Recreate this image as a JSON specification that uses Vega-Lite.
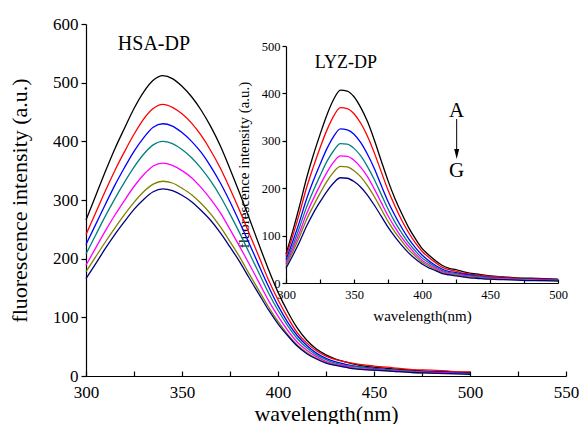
{
"$schema":"https://vega.github.io/schema/vega-lite/v6.json",
"width":480,"height":352,
"padding":{"left":8,"top":15,"right":0,"bottom":0},
"background":"white",
"config":{"view":{"stroke":null},"font":"Liberation Serif","text":{"font":"Liberation Serif"},
"axis":{"grid":false,"domainColor":"#000","tickColor":"#000","labelColor":"#000","titleColor":"#000","labelFont":"Liberation Serif","titleFont":"Liberation Serif","titleFontWeight":"normal","domainWidth":1.2,"tickWidth":1.2}},
"datasets":{
"hsa":[
{"w":300,"s":"A","v":266},{"w":305,"s":"A","v":307},{"w":310,"s":"A","v":348},{"w":315,"s":"A","v":387},{"w":320,"s":"A","v":422},{"w":325,"s":"A","v":456},{"w":330,"s":"A","v":484},{"w":335,"s":"A","v":504},{"w":340,"s":"A","v":512},{"w":345,"s":"A","v":507},{"w":350,"s":"A","v":494},{"w":355,"s":"A","v":476},{"w":360,"s":"A","v":453},{"w":365,"s":"A","v":425},{"w":370,"s":"A","v":392},{"w":375,"s":"A","v":353},{"w":380,"s":"A","v":312},{"w":385,"s":"A","v":269},{"w":390,"s":"A","v":225},{"w":395,"s":"A","v":182},{"w":400,"s":"A","v":143},{"w":405,"s":"A","v":110},{"w":410,"s":"A","v":82},{"w":415,"s":"A","v":61},{"w":420,"s":"A","v":46},{"w":425,"s":"A","v":36},{"w":430,"s":"A","v":29},{"w":435,"s":"A","v":24},{"w":440,"s":"A","v":20},{"w":450,"s":"A","v":15},{"w":460,"s":"A","v":12},{"w":470,"s":"A","v":10},{"w":480,"s":"A","v":8},{"w":490,"s":"A","v":7},{"w":500,"s":"A","v":6},
{"w":300,"s":"B","v":241},{"w":305,"s":"B","v":278},{"w":310,"s":"B","v":315},{"w":315,"s":"B","v":350},{"w":320,"s":"B","v":382},{"w":325,"s":"B","v":412},{"w":330,"s":"B","v":438},{"w":335,"s":"B","v":456},{"w":340,"s":"B","v":463},{"w":345,"s":"B","v":458},{"w":350,"s":"B","v":447},{"w":355,"s":"B","v":431},{"w":360,"s":"B","v":410},{"w":365,"s":"B","v":384},{"w":370,"s":"B","v":354},{"w":375,"s":"B","v":319},{"w":380,"s":"B","v":282},{"w":385,"s":"B","v":243},{"w":390,"s":"B","v":204},{"w":395,"s":"B","v":164},{"w":400,"s":"B","v":130},{"w":405,"s":"B","v":100},{"w":410,"s":"B","v":74},{"w":415,"s":"B","v":56},{"w":420,"s":"B","v":43},{"w":425,"s":"B","v":34},{"w":430,"s":"B","v":28},{"w":435,"s":"B","v":24},{"w":440,"s":"B","v":21},{"w":450,"s":"B","v":17},{"w":460,"s":"B","v":14},{"w":470,"s":"B","v":11},{"w":480,"s":"B","v":10},{"w":490,"s":"B","v":8},{"w":500,"s":"B","v":7},
{"w":300,"s":"C","v":224},{"w":305,"s":"C","v":258},{"w":310,"s":"C","v":292},{"w":315,"s":"C","v":325},{"w":320,"s":"C","v":355},{"w":325,"s":"C","v":383},{"w":330,"s":"C","v":406},{"w":335,"s":"C","v":424},{"w":340,"s":"C","v":430},{"w":345,"s":"C","v":426},{"w":350,"s":"C","v":415},{"w":355,"s":"C","v":400},{"w":360,"s":"C","v":381},{"w":365,"s":"C","v":357},{"w":370,"s":"C","v":329},{"w":375,"s":"C","v":297},{"w":380,"s":"C","v":262},{"w":385,"s":"C","v":226},{"w":390,"s":"C","v":189},{"w":395,"s":"C","v":153},{"w":400,"s":"C","v":120},{"w":405,"s":"C","v":92},{"w":410,"s":"C","v":69},{"w":415,"s":"C","v":52},{"w":420,"s":"C","v":39},{"w":425,"s":"C","v":30},{"w":430,"s":"C","v":24},{"w":435,"s":"C","v":20},{"w":440,"s":"C","v":17},{"w":450,"s":"C","v":13},{"w":460,"s":"C","v":10},{"w":470,"s":"C","v":8},{"w":480,"s":"C","v":7},{"w":490,"s":"C","v":6},{"w":500,"s":"C","v":5},
{"w":300,"s":"D","v":208},{"w":305,"s":"D","v":240},{"w":310,"s":"D","v":272},{"w":315,"s":"D","v":302},{"w":320,"s":"D","v":330},{"w":325,"s":"D","v":356},{"w":330,"s":"D","v":378},{"w":335,"s":"D","v":394},{"w":340,"s":"D","v":400},{"w":345,"s":"D","v":396},{"w":350,"s":"D","v":386},{"w":355,"s":"D","v":372},{"w":360,"s":"D","v":354},{"w":365,"s":"D","v":332},{"w":370,"s":"D","v":306},{"w":375,"s":"D","v":276},{"w":380,"s":"D","v":244},{"w":385,"s":"D","v":210},{"w":390,"s":"D","v":176},{"w":395,"s":"D","v":142},{"w":400,"s":"D","v":112},{"w":405,"s":"D","v":86},{"w":410,"s":"D","v":64},{"w":415,"s":"D","v":48},{"w":420,"s":"D","v":36},{"w":425,"s":"D","v":28},{"w":430,"s":"D","v":22},{"w":435,"s":"D","v":18},{"w":440,"s":"D","v":16},{"w":450,"s":"D","v":12},{"w":460,"s":"D","v":10},{"w":470,"s":"D","v":8},{"w":480,"s":"D","v":6},{"w":490,"s":"D","v":5},{"w":500,"s":"D","v":4},
{"w":300,"s":"E","v":189},{"w":305,"s":"E","v":218},{"w":310,"s":"E","v":247},{"w":315,"s":"E","v":274},{"w":320,"s":"E","v":299},{"w":325,"s":"E","v":323},{"w":330,"s":"E","v":343},{"w":335,"s":"E","v":358},{"w":340,"s":"E","v":363},{"w":345,"s":"E","v":359},{"w":350,"s":"E","v":350},{"w":355,"s":"E","v":338},{"w":360,"s":"E","v":321},{"w":365,"s":"E","v":301},{"w":370,"s":"E","v":278},{"w":375,"s":"E","v":250},{"w":380,"s":"E","v":221},{"w":385,"s":"E","v":191},{"w":390,"s":"E","v":160},{"w":395,"s":"E","v":129},{"w":400,"s":"E","v":102},{"w":405,"s":"E","v":78},{"w":410,"s":"E","v":58},{"w":415,"s":"E","v":44},{"w":420,"s":"E","v":33},{"w":425,"s":"E","v":25},{"w":430,"s":"E","v":20},{"w":435,"s":"E","v":17},{"w":440,"s":"E","v":14},{"w":450,"s":"E","v":11},{"w":460,"s":"E","v":9},{"w":470,"s":"E","v":7},{"w":480,"s":"E","v":6},{"w":490,"s":"E","v":5},{"w":500,"s":"E","v":4},
{"w":300,"s":"F","v":178},{"w":305,"s":"F","v":203},{"w":310,"s":"F","v":228},{"w":315,"s":"F","v":252},{"w":320,"s":"F","v":275},{"w":325,"s":"F","v":296},{"w":330,"s":"F","v":314},{"w":335,"s":"F","v":327},{"w":340,"s":"F","v":332},{"w":345,"s":"F","v":329},{"w":350,"s":"F","v":320},{"w":355,"s":"F","v":309},{"w":360,"s":"F","v":294},{"w":365,"s":"F","v":276},{"w":370,"s":"F","v":254},{"w":375,"s":"F","v":229},{"w":380,"s":"F","v":203},{"w":385,"s":"F","v":174},{"w":390,"s":"F","v":146},{"w":395,"s":"F","v":118},{"w":400,"s":"F","v":93},{"w":405,"s":"F","v":71},{"w":410,"s":"F","v":53},{"w":415,"s":"F","v":40},{"w":420,"s":"F","v":30},{"w":425,"s":"F","v":23},{"w":430,"s":"F","v":19},{"w":435,"s":"F","v":15},{"w":440,"s":"F","v":13},{"w":450,"s":"F","v":10},{"w":460,"s":"F","v":8},{"w":470,"s":"F","v":6},{"w":480,"s":"F","v":5},{"w":490,"s":"F","v":4},{"w":500,"s":"F","v":4},
{"w":300,"s":"G","v":166},{"w":305,"s":"G","v":191},{"w":310,"s":"G","v":217},{"w":315,"s":"G","v":241},{"w":320,"s":"G","v":263},{"w":325,"s":"G","v":284},{"w":330,"s":"G","v":301},{"w":335,"s":"G","v":314},{"w":340,"s":"G","v":319},{"w":345,"s":"G","v":316},{"w":350,"s":"G","v":308},{"w":355,"s":"G","v":297},{"w":360,"s":"G","v":282},{"w":365,"s":"G","v":265},{"w":370,"s":"G","v":244},{"w":375,"s":"G","v":220},{"w":380,"s":"G","v":195},{"w":385,"s":"G","v":167},{"w":390,"s":"G","v":140},{"w":395,"s":"G","v":113},{"w":400,"s":"G","v":89},{"w":405,"s":"G","v":69},{"w":410,"s":"G","v":51},{"w":415,"s":"G","v":38},{"w":420,"s":"G","v":29},{"w":425,"s":"G","v":22},{"w":430,"s":"G","v":18},{"w":435,"s":"G","v":15},{"w":440,"s":"G","v":12},{"w":450,"s":"G","v":10},{"w":460,"s":"G","v":8},{"w":470,"s":"G","v":6},{"w":480,"s":"G","v":5},{"w":490,"s":"G","v":4},{"w":500,"s":"G","v":3}
],
"lyz":[
{"w":300,"s":"A","v":61},{"w":305,"s":"A","v":110},{"w":310,"s":"A","v":163},{"w":315,"s":"A","v":220},{"w":320,"s":"A","v":269},{"w":325,"s":"A","v":313},{"w":330,"s":"A","v":354},{"w":335,"s":"A","v":387},{"w":340,"s":"A","v":407},{"w":345,"s":"A","v":405},{"w":350,"s":"A","v":393},{"w":355,"s":"A","v":370},{"w":360,"s":"A","v":340},{"w":365,"s":"A","v":301},{"w":370,"s":"A","v":258},{"w":375,"s":"A","v":216},{"w":380,"s":"A","v":179},{"w":385,"s":"A","v":147},{"w":390,"s":"A","v":118},{"w":395,"s":"A","v":94},{"w":400,"s":"A","v":73},{"w":405,"s":"A","v":59},{"w":410,"s":"A","v":47},{"w":415,"s":"A","v":37},{"w":420,"s":"A","v":31},{"w":425,"s":"A","v":28},{"w":430,"s":"A","v":24},{"w":435,"s":"A","v":21},{"w":440,"s":"A","v":19},{"w":450,"s":"A","v":15},{"w":460,"s":"A","v":13},{"w":470,"s":"A","v":11},{"w":480,"s":"A","v":10},{"w":490,"s":"A","v":9},{"w":500,"s":"A","v":8},
{"w":300,"s":"B","v":56},{"w":305,"s":"B","v":100},{"w":310,"s":"B","v":148},{"w":315,"s":"B","v":200},{"w":320,"s":"B","v":244},{"w":325,"s":"B","v":285},{"w":330,"s":"B","v":322},{"w":335,"s":"B","v":352},{"w":340,"s":"B","v":370},{"w":345,"s":"B","v":368},{"w":350,"s":"B","v":357},{"w":355,"s":"B","v":337},{"w":360,"s":"B","v":309},{"w":365,"s":"B","v":274},{"w":370,"s":"B","v":235},{"w":375,"s":"B","v":196},{"w":380,"s":"B","v":163},{"w":385,"s":"B","v":133},{"w":390,"s":"B","v":107},{"w":395,"s":"B","v":85},{"w":400,"s":"B","v":67},{"w":405,"s":"B","v":54},{"w":410,"s":"B","v":43},{"w":415,"s":"B","v":33},{"w":420,"s":"B","v":28},{"w":425,"s":"B","v":25},{"w":430,"s":"B","v":21},{"w":435,"s":"B","v":19},{"w":440,"s":"B","v":17},{"w":450,"s":"B","v":14},{"w":460,"s":"B","v":12},{"w":470,"s":"B","v":10},{"w":480,"s":"B","v":9},{"w":490,"s":"B","v":8},{"w":500,"s":"B","v":7},
{"w":300,"s":"C","v":49},{"w":305,"s":"C","v":88},{"w":310,"s":"C","v":130},{"w":315,"s":"C","v":176},{"w":320,"s":"C","v":215},{"w":325,"s":"C","v":250},{"w":330,"s":"C","v":283},{"w":335,"s":"C","v":309},{"w":340,"s":"C","v":325},{"w":345,"s":"C","v":323},{"w":350,"s":"C","v":314},{"w":355,"s":"C","v":296},{"w":360,"s":"C","v":271},{"w":365,"s":"C","v":241},{"w":370,"s":"C","v":206},{"w":375,"s":"C","v":172},{"w":380,"s":"C","v":143},{"w":385,"s":"C","v":117},{"w":390,"s":"C","v":94},{"w":395,"s":"C","v":75},{"w":400,"s":"C","v":59},{"w":405,"s":"C","v":47},{"w":410,"s":"C","v":37},{"w":415,"s":"C","v":29},{"w":420,"s":"C","v":24},{"w":425,"s":"C","v":22},{"w":430,"s":"C","v":19},{"w":435,"s":"C","v":17},{"w":440,"s":"C","v":15},{"w":450,"s":"C","v":12},{"w":460,"s":"C","v":10},{"w":470,"s":"C","v":9},{"w":480,"s":"C","v":8},{"w":490,"s":"C","v":7},{"w":500,"s":"C","v":6},
{"w":300,"s":"D","v":44},{"w":305,"s":"D","v":79},{"w":310,"s":"D","v":118},{"w":315,"s":"D","v":159},{"w":320,"s":"D","v":194},{"w":325,"s":"D","v":226},{"w":330,"s":"D","v":256},{"w":335,"s":"D","v":279},{"w":340,"s":"D","v":294},{"w":345,"s":"D","v":293},{"w":350,"s":"D","v":284},{"w":355,"s":"D","v":268},{"w":360,"s":"D","v":245},{"w":365,"s":"D","v":218},{"w":370,"s":"D","v":187},{"w":375,"s":"D","v":156},{"w":380,"s":"D","v":129},{"w":385,"s":"D","v":106},{"w":390,"s":"D","v":85},{"w":395,"s":"D","v":68},{"w":400,"s":"D","v":53},{"w":405,"s":"D","v":43},{"w":410,"s":"D","v":34},{"w":415,"s":"D","v":26},{"w":420,"s":"D","v":22},{"w":425,"s":"D","v":20},{"w":430,"s":"D","v":17},{"w":435,"s":"D","v":15},{"w":440,"s":"D","v":14},{"w":450,"s":"D","v":11},{"w":460,"s":"D","v":9},{"w":470,"s":"D","v":8},{"w":480,"s":"D","v":7},{"w":490,"s":"D","v":6},{"w":500,"s":"D","v":6},
{"w":300,"s":"E","v":40},{"w":305,"s":"E","v":72},{"w":310,"s":"E","v":107},{"w":315,"s":"E","v":145},{"w":320,"s":"E","v":177},{"w":325,"s":"E","v":206},{"w":330,"s":"E","v":233},{"w":335,"s":"E","v":255},{"w":340,"s":"E","v":268},{"w":345,"s":"E","v":267},{"w":350,"s":"E","v":259},{"w":355,"s":"E","v":244},{"w":360,"s":"E","v":224},{"w":365,"s":"E","v":198},{"w":370,"s":"E","v":170},{"w":375,"s":"E","v":142},{"w":380,"s":"E","v":118},{"w":385,"s":"E","v":96},{"w":390,"s":"E","v":78},{"w":395,"s":"E","v":62},{"w":400,"s":"E","v":48},{"w":405,"s":"E","v":39},{"w":410,"s":"E","v":31},{"w":415,"s":"E","v":24},{"w":420,"s":"E","v":20},{"w":425,"s":"E","v":18},{"w":430,"s":"E","v":16},{"w":435,"s":"E","v":14},{"w":440,"s":"E","v":12},{"w":450,"s":"E","v":10},{"w":460,"s":"E","v":9},{"w":470,"s":"E","v":8},{"w":480,"s":"E","v":6},{"w":490,"s":"E","v":6},{"w":500,"s":"E","v":5},
{"w":300,"s":"F","v":36},{"w":305,"s":"F","v":66},{"w":310,"s":"F","v":98},{"w":315,"s":"F","v":133},{"w":320,"s":"F","v":162},{"w":325,"s":"F","v":189},{"w":330,"s":"F","v":214},{"w":335,"s":"F","v":234},{"w":340,"s":"F","v":246},{"w":345,"s":"F","v":245},{"w":350,"s":"F","v":237},{"w":355,"s":"F","v":224},{"w":360,"s":"F","v":205},{"w":365,"s":"F","v":182},{"w":370,"s":"F","v":156},{"w":375,"s":"F","v":130},{"w":380,"s":"F","v":108},{"w":385,"s":"F","v":89},{"w":390,"s":"F","v":71},{"w":395,"s":"F","v":57},{"w":400,"s":"F","v":44},{"w":405,"s":"F","v":36},{"w":410,"s":"F","v":28},{"w":415,"s":"F","v":22},{"w":420,"s":"F","v":18},{"w":425,"s":"F","v":17},{"w":430,"s":"F","v":14},{"w":435,"s":"F","v":13},{"w":440,"s":"F","v":11},{"w":450,"s":"F","v":9},{"w":460,"s":"F","v":8},{"w":470,"s":"F","v":7},{"w":480,"s":"F","v":6},{"w":490,"s":"F","v":5},{"w":500,"s":"F","v":5},
{"w":300,"s":"G","v":31},{"w":305,"s":"G","v":58},{"w":310,"s":"G","v":87},{"w":315,"s":"G","v":119},{"w":320,"s":"G","v":147},{"w":325,"s":"G","v":171},{"w":330,"s":"G","v":193},{"w":335,"s":"G","v":211},{"w":340,"s":"G","v":222},{"w":345,"s":"G","v":221},{"w":350,"s":"G","v":214},{"w":355,"s":"G","v":202},{"w":360,"s":"G","v":185},{"w":365,"s":"G","v":164},{"w":370,"s":"G","v":141},{"w":375,"s":"G","v":118},{"w":380,"s":"G","v":98},{"w":385,"s":"G","v":80},{"w":390,"s":"G","v":64},{"w":395,"s":"G","v":51},{"w":400,"s":"G","v":40},{"w":405,"s":"G","v":32},{"w":410,"s":"G","v":26},{"w":415,"s":"G","v":20},{"w":420,"s":"G","v":17},{"w":425,"s":"G","v":15},{"w":430,"s":"G","v":13},{"w":435,"s":"G","v":11},{"w":440,"s":"G","v":10},{"w":450,"s":"G","v":8},{"w":460,"s":"G","v":7},{"w":470,"s":"G","v":6},{"w":480,"s":"G","v":5},{"w":490,"s":"G","v":5},{"w":500,"s":"G","v":4}
]
},
"layer":[
{"layer":[
{"data":{"name":"hsa"},
"mark":{"type":"line","strokeWidth":1.3,"interpolate":"monotone"},
"encoding":{
"x":{"field":"w","type":"quantitative","scale":{"domain":[300,550],"nice":false,"zero":false},
"axis":{"title":"wavelength(nm)","orient":"bottom","values":[300,325,350,375,400,425,450,475,500,525,550],"labelExpr":"datum.value % 50 === 0 ? datum.label : ''","tickSize":-5,"labelFont":"Liberation Serif","titleFont":"Liberation Serif","labelFontSize":17,"titleFontSize":22,"labelPadding":13,"titlePadding":3,"labelFlush":false}},
"y":{"field":"v","type":"quantitative","scale":{"domain":[0,600],"nice":false},
"axis":{"title":"fluorescence intensity (a.u.)","orient":"left","values":[0,50,100,150,200,250,300,350,400,450,500,550,600],"labelExpr":"datum.value % 100 === 0 ? datum.label : ''","tickSize":5,"labelFont":"Liberation Serif","titleFont":"Liberation Serif","labelFontSize":17,"titleFontSize":22,"labelPadding":3,"titlePadding":21,"labelFlush":false}},
"color":{"field":"s","type":"nominal","scale":{"domain":["A","B","C","D","E","F","G"],"range":["#000000","#ff0000","#0000ff","#008080","#ff00ff","#808000","#000080"]},"legend":null}}},
{"data":{"values":[{"w":335.4,"v":566,"t":"HSA-DP"}]},
"mark":{"type":"text","fontSize":20,"font":"Liberation Serif","color":"#000","baseline":"middle","align":"center"},
"encoding":{"x":{"field":"w","type":"quantitative"},"y":{"field":"v","type":"quantitative"},"text":{"field":"t"}}}
]},
{"layer":[
{"data":{"name":"lyz"},
"mark":{"type":"line","strokeWidth":1.3,"interpolate":"monotone"},
"encoding":{
"x":{"field":"w","type":"quantitative","scale":{"domain":[300,500],"nice":false,"zero":false,"range":[200,472]},
"axis":{"title":"wavelength(nm)","orient":"bottom","offset":-93,"values":[300,325,350,375,400,425,450,475,500],"labelExpr":"datum.value % 50 === 0 ? datum.label : ''","tickSize":-4,"labelFont":"Liberation Serif","titleFont":"Liberation Serif","labelFontSize":12.5,"titleFontSize":15,"labelPadding":9,"titlePadding":8,"labelFlush":false}},
"y":{"field":"v","type":"quantitative","scale":{"domain":[0,500],"nice":false,"range":[259,22]},
"axis":{"title":"fluorescence intensity (a.u.)","orient":"left","offset":-200,"values":[0,50,100,150,200,250,300,350,400,450,500],"labelExpr":"datum.value % 100 === 0 ? datum.label : ''","tickSize":4,"labelFont":"Liberation Serif","titleFont":"Liberation Serif","labelFontSize":12.5,"titleFontSize":15,"labelPadding":2,"titlePadding":10,"labelFlush":false}},
"color":{"field":"s","type":"nominal","scale":{"domain":["A","B","C","D","E","F","G"],"range":["#000000","#ff0000","#0000ff","#008080","#ff00ff","#808000","#000080"]},"legend":null}}},
{"data":{"values":[{"w":344,"v":464,"t":"LYZ-DP","f":18},{"w":425.5,"v":362,"t":"A","f":21},{"w":425.5,"v":236,"t":"G","f":21}]},
"mark":{"type":"text","font":"Liberation Serif","color":"#000","baseline":"middle","align":"center"},
"encoding":{"x":{"field":"w","type":"quantitative"},"y":{"field":"v","type":"quantitative"},"text":{"field":"t"},"size":{"field":"f","type":"quantitative","scale":null}}},
{"data":{"values":[{"w":425.5,"v":346,"v2":272}]},
"mark":{"type":"rule","color":"#000","strokeWidth":1},
"encoding":{"x":{"field":"w","type":"quantitative"},"y":{"field":"v","type":"quantitative"},"y2":{"field":"v2"}}},
{"data":{"values":[{"w":425.5,"v":272}]},
"mark":{"type":"point","filled":true,"color":"#000","opacity":1,"size":100,"shape":"M -0.5 -1 L 0.5 -1 L 0 1 Z"},
"encoding":{"x":{"field":"w","type":"quantitative"},"y":{"field":"v","type":"quantitative"}}}
]}
],
"resolve":{"scale":{"x":"independent","y":"independent"},"axis":{"x":"independent","y":"independent"}}
}
